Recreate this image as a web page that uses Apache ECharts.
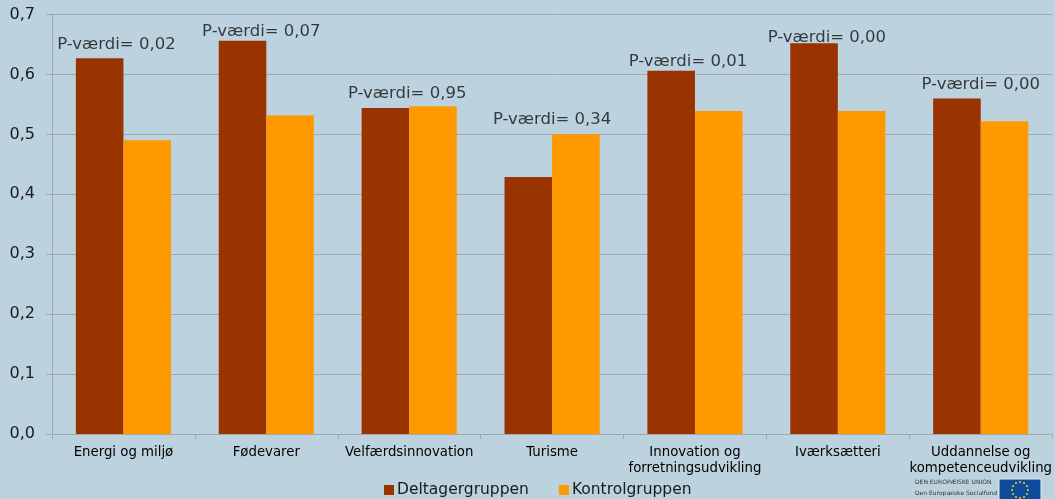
<!DOCTYPE html>
<html>
<head>
<meta charset="utf-8">
<style>
html, body { margin: 0; padding: 0; background: #bcd3df; }
#main { width: 1055px; height: 499px; }
</style>
<script src="https://cdn.jsdelivr.net/npm/echarts@6/dist/echarts.min.js"></script>
</head>
<body>
<div id="main"></div>
<script>
var categories = ['Energi og miljø', 'Fødevarer', 'Velfærdsinnovation', 'Turisme', 'Innovation og\nforretningsudvikling', 'Iværksætteri', 'Uddannelse og\nkompetenceudvikling'];
var deltager = [0.627, 0.656, 0.544, 0.429, 0.606, 0.652, 0.56];
var kontrol = [0.49, 0.532, 0.547, 0.5, 0.539, 0.539, 0.522];
var pValues = ['0,02', '0,07', '0,95', '0,34', '0,01', '0,00', '0,00'];
var pHeights = [0.649, 0.672, 0.567, 0.524, 0.622, 0.662, 0.582];

// the p-labels are not quite centred on their groups
var pShift = [-7, -5, -2, 0, -7, -11, 0];
var font = '"DejaVu Sans", Verdana, sans-serif';
var gridColor = '#a0a9ae';

// little flag in the corner, stars placed round a ring
var stars = [];
for (var i = 0; i < 12; i++) {
	var a = i * Math.PI / 6;
	stars.push({
		type: 'circle',
		shape: { cx: 1020 + Math.sin(a) * 8, cy: 490 - Math.cos(a) * 8, r: 1 },
		style: { fill: '#f5d800' }
	});
}

var chart = echarts.init(document.getElementById('main'));
var option = {
	backgroundColor: '#bcd3df',
	animation: false,
	textStyle: { fontFamily: font },
	grid: { left: 52, right: 2, top: 14.5, bottom: 65 },
	legend: {
		left: 384,
		top: 482,
		padding: 0,
		itemWidth: 10,
		itemHeight: 10,
		itemGap: 30,
		icon: 'rect',
		data: ['Deltagergruppen', 'Kontrolgruppen'],
		textStyle: { fontFamily: font, fontSize: 15.5, color: '#1a1a1a', padding: [0, 0, 0, -2] }
	},
	xAxis: {
		type: 'category',
		data: categories,
		axisLine: { lineStyle: { color: gridColor } },
		axisTick: { show: true, length: 5, alignWithLabel: false, lineStyle: { color: gridColor } },
		axisLabel: { interval: 0, color: '#000', fontSize: 13.3, margin: 11, lineHeight: 16, fontFamily: font }
	},
	yAxis: {
		type: 'value',
		min: 0,
		max: 0.7,
		interval: 0.1,
		axisLine: { show: true, lineStyle: { color: gridColor } },
		axisTick: { show: true, length: 6, lineStyle: { color: gridColor } },
		splitLine: { lineStyle: { color: gridColor } },
		axisLabel: {
			color: '#1a1a1a',
			fontSize: 16,
			margin: 17,
			fontFamily: font,
			formatter: function(v) { return v.toFixed(1).replace('.', ','); }
		}
	},
	series: [
		{
			name: 'Deltagergruppen',
			type: 'bar',
			data: deltager,
			barWidth: '33.3%',
			barGap: 0,
			itemStyle: { color: '#993300' }
		},
		{
			name: 'Kontrolgruppen',
			type: 'bar',
			data: kontrol,
			barWidth: '33.3%',
			itemStyle: { color: '#ff9900' }
		},
		{
			type: 'scatter',
			symbolSize: 0,
			silent: true,
			z: 5,
			data: pHeights.map(function(h, i) {
				return {
					value: [i, h],
					label: {
						show: true,
						position: 'inside',
						offset: [pShift[i], 0],
						formatter: 'P-værdi= ' + pValues[i],
						fontSize: 16.5,
						color: '#111',
						textBorderWidth: 0,
						fontFamily: font
					}
				};
			})
		}
	],
	graphic: [
		{ type: 'text', left: 915, top: 479, style: { text: 'DEN EUROPÆISKE UNION', font: '6px ' + font, fill: '#333' } },
		{ type: 'text', left: 915, top: 490, style: { text: 'Den Europæiske Socialfond', font: '6px ' + font, fill: '#333' } },
		{ type: 'rect', shape: { x: 999, y: 479, width: 42, height: 22 }, style: { fill: '#0f4b9c', stroke: '#e8eef2', lineWidth: 1 } }
	].concat(stars)
};
chart.setOption(option);
</script>
</body>
</html>
